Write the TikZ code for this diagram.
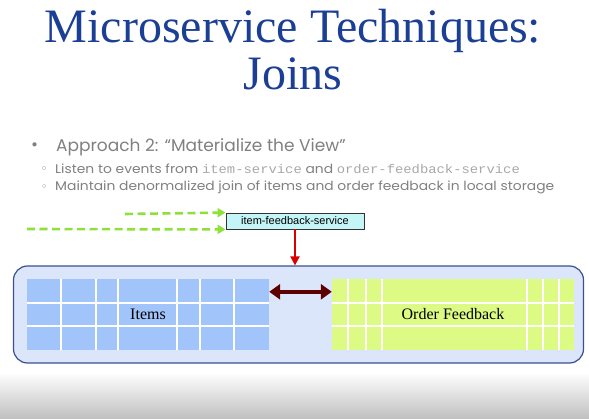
\documentclass[tikz,border=0pt]{standalone}
\usepackage{fontspec}
\setmainfont{Liberation Serif}
\setmonofont{Liberation Mono}
\newfontfamily\bodyfont{Poppins}
\newfontfamily\boxfont{Liberation Sans}
\usetikzlibrary{arrows.meta,positioning,calc}

\definecolor{titleblue}{HTML}{1B3F94}
\definecolor{txtgray}{HTML}{808080}
\definecolor{monogray}{HTML}{A8A8A8}
\definecolor{evgreen}{HTML}{8EE03A}
\definecolor{svccyan}{HTML}{C4F6F8}
\definecolor{viewfill}{HTML}{DCE6FB}
\definecolor{viewline}{HTML}{3B4F8E}
\definecolor{itemblue}{HTML}{A1C5FA}
\definecolor{fblime}{HTML}{DDFA84}
\definecolor{joinred}{HTML}{5C0000}

\newcommand{\widen}[1]{\scalebox{1.1}[1]{#1}}

\begin{document}
\begin{tikzpicture}[
  x=1pt, y=-1pt,
  title/.style={text=titleblue, font=\fontsize{48}{54}\selectfont, anchor=base, inner sep=0pt},
  lvlone/.style={text=txtgray, font=\bodyfont\fontsize{17}{20}\selectfont, anchor=west, inner sep=0pt},
  lvltwo/.style={text=txtgray, font=\bodyfont\fontsize{12.6}{14}\selectfont, anchor=west, inner sep=0pt},
  svc/.style={draw=black!80, fill=svccyan, font=\boxfont\fontsize{11}{12}\selectfont,
              minimum width=138pt, minimum height=16pt, inner sep=0pt, line width=0.8pt},
  tbl/.style={minimum width=242pt, minimum height=71pt, inner sep=0pt,
              font=\fontsize{16}{18}\selectfont},
  grid/.style={white, line width=1.6pt},
  event/.style={evgreen, line width=2.6pt, dash pattern=on 8pt off 4.5pt,
                -{Triangle[length=8pt, width=9pt]}}
]
\useasboundingbox (0,0) rectangle (589,419);
\shade[top color=white, bottom color=black!25] (0,372) rectangle (589,419);

% title
\node[title] (ttl1) at (293,43) {Microservice Techniques:};
\node[title] (ttl2) at (293,90) {Joins};

% bullets
\node[lvlone] (b1) at (31,147) {\textbullet};
\node[lvlone] (t1) at (56,147) {Approach 2: “Materialize the View”};
\node[lvltwo] (b2) at (42,169) {\fontsize{8}{8}\selectfont$\circ$};
\node[lvltwo] (t2) at (55,169) {\widen{Listen to events from \textcolor{monogray}{\ttfamily item-service} and \textcolor{monogray}{\ttfamily order-feedback-service}}};
\node[lvltwo] (b3) at (42,187) {\fontsize{8}{8}\selectfont$\circ$};
\node[lvltwo] (t3) at (55,187) {\widen{Maintain denormalized join of items and order feedback in local storage}};

% service and view
\node[svc] (svc) at (295,221) {item-feedback-service};
\node[draw=viewline, fill=viewfill, line width=1.2pt, rounded corners=14pt,
      minimum width=570pt, minimum height=97pt] (view) at (298.5,314.5) {};

\node[tbl, fill=itemblue] (items) at (148,314.5) {Items};
\node[tbl, fill=fblime] (fb) at (453,314.5) {Order Feedback};

\foreach \c in {34,69,91,150,173,207}
  \draw[grid] ([xshift=\c pt]items.north west) -- ([xshift=\c pt]items.south west);
\foreach \c in {16,34,50,195,211,227}
  \draw[grid] ([xshift=\c pt]fb.north west) -- ([xshift=\c pt]fb.south west);
\foreach \r in {24,47} {
  \draw[grid] ([yshift=-\r pt]items.north west) -- ([yshift=-\r pt]items.north east);
  \draw[grid] ([yshift=-\r pt]fb.north west) -- ([yshift=-\r pt]fb.north east);
}

% events
\coordinate (src1) at (125,214);
\coordinate (src2) at (27,229);
\draw[event] (src1) -- (svc.north west);
\draw[event] (src2) -- (svc.south west);

\draw[red!85!black, line width=2pt, -{Triangle[length=9pt, width=9pt]}]
  (svc.south) -- (svc.south |- view.north);
\draw[joinred, line width=4.5pt, {Triangle[length=11pt, width=15pt]}-{Triangle[length=11pt, width=15pt]}]
  ([yshift=-13pt]items.north east) -- ([yshift=-13pt]fb.north west);
\end{tikzpicture}
\end{document}
